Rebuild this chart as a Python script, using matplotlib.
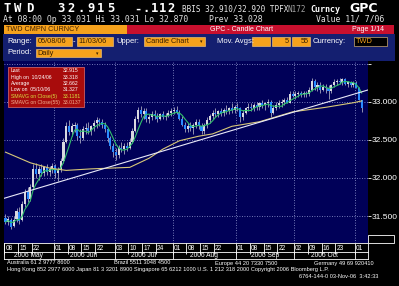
import numpy as np
import pandas as pd
import matplotlib
matplotlib.use('Agg')
import matplotlib.pyplot as plt
from matplotlib.patches import Rectangle
import matplotlib.transforms as mtrans

# ---------------- data ----------------
dates = pd.bdate_range('2006-05-08', '2006-11-03')

opens = [31.48, 31.42, 31.45, 31.37, 31.46, 31.55, 31.45, 31.66, 31.82, 31.72,
         31.88, 32.12, 32.05, 32.12, 32.06, 32.14, 32.08, 32.12, 32.16, 32.06,
         32.10, 32.22, 32.48, 32.68, 32.60, 32.68, 32.70, 32.55, 32.52, 32.64,
         32.66, 32.62, 32.68, 32.72, 32.76, 32.74, 32.70, 32.64, 32.52, 32.42,
         32.34, 32.30, 32.40, 32.38, 32.42, 32.40, 32.48, 32.62, 32.78, 32.90,
         32.84, 32.88, 32.78, 32.80, 32.84, 32.82, 32.78, 32.84, 32.80, 32.82,
         32.86, 32.88, 32.90, 32.86, 32.78, 32.70, 32.64, 32.68, 32.66, 32.70,
         32.74, 32.68, 32.62, 32.70, 32.76, 32.82, 32.86, 32.84, 32.88, 32.86,
         32.90, 32.88, 32.92, 32.90, 32.94, 32.92, 32.80, 32.86, 32.92, 32.94,
         32.92, 32.96, 32.94, 32.98, 32.96, 32.98, 33.00, 32.86, 32.92, 32.96,
         32.98, 33.00, 33.02, 32.98, 33.10, 33.08, 33.10, 33.12, 33.10, 33.12,
         33.10, 33.16, 33.28, 33.20, 33.22, 33.16, 33.20, 33.18, 33.14, 33.22,
         33.26, 33.28, 33.26, 33.30, 33.24, 33.26, 33.22, 33.25, 33.18, 33.031]
highs = [31.52, 31.50, 31.47, 31.50, 31.60, 31.62, 31.70, 31.86, 31.88, 31.92,
         32.18, 32.20, 32.16, 32.18, 32.16, 32.18, 32.16, 32.20, 32.19, 32.14,
         32.26, 32.52, 32.74, 32.76, 32.72, 32.74, 32.72, 32.64, 32.68, 32.72,
         32.74, 32.70, 32.76, 32.80, 32.79, 32.78, 32.74, 32.66, 32.55, 32.46,
         32.40, 32.44, 32.48, 32.46, 32.48, 32.52, 32.66, 32.82, 32.94, 32.95,
         32.92, 32.92, 32.84, 32.88, 32.90, 32.86, 32.86, 32.88, 32.86, 32.90,
         32.92, 32.94, 32.95, 32.90, 32.82, 32.74, 32.72, 32.74, 32.72, 32.78,
         32.78, 32.72, 32.72, 32.80, 32.84, 32.90, 32.92, 32.90, 32.92, 32.92,
         32.96, 32.94, 32.98, 32.96, 32.98, 32.94, 32.90, 32.94, 32.98, 32.98,
         32.98, 33.00, 33.00, 33.02, 33.00, 33.04, 33.02, 32.96, 33.00, 33.02,
         33.04, 33.05, 33.06, 33.14, 33.14, 33.14, 33.14, 33.15, 33.14, 33.14,
         33.20, 33.31, 33.30, 33.26, 33.26, 33.24, 33.24, 33.22, 33.24, 33.30,
         33.30, 33.31, 33.318, 33.31, 33.28, 33.28, 33.28, 33.28, 33.20, 33.031]
lows = [31.40, 31.38, 31.327, 31.35, 31.42, 31.40, 31.43, 31.62, 31.68, 31.70,
        31.86, 32.00, 31.98, 32.02, 32.02, 32.04, 32.02, 32.06, 32.00, 31.96,
        32.08, 32.20, 32.46, 32.56, 32.55, 32.60, 32.50, 32.46, 32.50, 32.58,
        32.58, 32.56, 32.62, 32.66, 32.68, 32.66, 32.60, 32.48, 32.38, 32.28,
        32.24, 32.26, 32.34, 32.32, 32.36, 32.38, 32.46, 32.60, 32.74, 32.80,
        32.78, 32.74, 32.72, 32.76, 32.78, 32.74, 32.76, 32.78, 32.76, 32.80,
        32.82, 32.84, 32.84, 32.76, 32.68, 32.60, 32.60, 32.62, 32.58, 32.66,
        32.64, 32.58, 32.58, 32.66, 32.72, 32.78, 32.80, 32.80, 32.82, 32.82,
        32.84, 32.84, 32.86, 32.86, 32.88, 32.74, 32.76, 32.84, 32.88, 32.88,
        32.88, 32.90, 32.90, 32.92, 32.90, 32.94, 32.80, 32.84, 32.90, 32.92,
        32.94, 32.96, 32.98, 32.98, 33.06, 33.04, 33.06, 33.06, 33.07, 33.06,
        33.08, 33.14, 33.16, 33.14, 33.12, 33.14, 33.12, 33.04, 33.12, 33.20,
        33.22, 33.24, 33.22, 33.22, 33.20, 33.20, 33.20, 33.18, 33.02, 32.87]
closes = [31.42, 31.46, 31.36, 31.45, 31.56, 31.44, 31.66, 31.82, 31.72, 31.88,
          32.12, 32.05, 32.12, 32.06, 32.14, 32.08, 32.12, 32.16, 32.06, 32.10,
          32.22, 32.48, 32.68, 32.60, 32.68, 32.70, 32.55, 32.52, 32.64, 32.66,
          32.62, 32.68, 32.72, 32.76, 32.74, 32.70, 32.64, 32.52, 32.42, 32.34,
          32.30, 32.40, 32.38, 32.42, 32.40, 32.48, 32.62, 32.78, 32.90, 32.84,
          32.88, 32.78, 32.80, 32.84, 32.82, 32.78, 32.84, 32.80, 32.82, 32.86,
          32.88, 32.90, 32.86, 32.78, 32.70, 32.64, 32.68, 32.66, 32.70, 32.74,
          32.68, 32.62, 32.70, 32.76, 32.82, 32.86, 32.84, 32.88, 32.86, 32.90,
          32.88, 32.92, 32.90, 32.94, 32.92, 32.80, 32.86, 32.92, 32.94, 32.92,
          32.96, 32.94, 32.98, 32.96, 32.98, 33.00, 32.86, 32.92, 32.96, 32.98,
          33.00, 33.02, 32.98, 33.10, 33.08, 33.10, 33.12, 33.10, 33.12, 33.10,
          33.16, 33.28, 33.20, 33.22, 33.16, 33.20, 33.18, 33.14, 33.22, 33.26,
          33.28, 33.26, 33.30, 33.24, 33.26, 33.22, 33.25, 33.18, 33.028, 32.915]

# 55-day moving average (trading-day index, value)
sma55_idx = [0, 9, 16, 22, 31, 38, 45, 52, 57, 63, 70, 75, 82, 92, 104, 116, 126, 129]
sma55_val = [32.34, 32.20, 32.13, 32.10, 32.12, 32.13, 32.14, 32.26, 32.38, 32.49,
             32.55, 32.58, 32.68, 32.74, 32.87, 32.93, 32.99, 33.0137]

# trend line end points (trading-day index, value)
trend_idx = [-0.5, 131.3]
trend_val = [31.733, 33.158]

tick_dates = ['2006-05-08', '2006-05-15', '2006-05-22', '2006-06-01', '2006-06-08',
              '2006-06-15', '2006-06-22', '2006-07-03', '2006-07-10', '2006-07-17',
              '2006-07-24', '2006-08-01', '2006-08-08', '2006-08-15', '2006-08-22',
              '2006-09-01', '2006-09-08', '2006-09-15', '2006-09-22', '2006-10-02',
              '2006-10-09', '2006-10-16', '2006-10-23', '2006-11-01']
month_names = ['2006 May', '2006 Jun', '2006 Jul', '2006 Aug', '2006 Sep', '2006 Oct']
y_ticks = [31.5, 32.0, 32.5, 33.0, 33.5]
y_labels = ['31.500', '32.000', '32.500', '33.000', '']

stats_labels = ['Last', 'High on  10/24/06', 'Average', 'Low on  05/10/06',
                'SMAVG on Close(5)', 'SMAVG on Close(55)']
stats_values = ['32.915', '33.318', '32.662', '31.327', '33.1181', '33.0137']

# ---------------- figure ----------------
W, H = 399, 286
ORANGE = '#f6a21c'
NAVY_PANEL = '#141f70'
PLOT_BG = '#000058'
SANS = 'Liberation Sans'

fig = plt.figure(figsize=(W / 100, H / 100), dpi=100, facecolor='black')
bg = fig.add_axes([0, 0, 1, 1])
bg.set_xlim(0, W)
bg.set_ylim(H, 0)
bg.axis('off')

mono = 'DejaVu Sans Mono'

def spaced(ax_, x, y, s, pitch, **kw):
    for k, ch in enumerate(s):
        ax_.text(x + k * pitch, y, ch, ha='left', va='center', **kw)

# header line 1 (wide tracking like the terminal font)
big = dict(family=mono, weight='bold', fontsize=8.8, color='white')
spaced(bg, 3, 9, 'TWD', 11.5, **big)
spaced(bg, 57, 9, '32.915', 10.0, **big)
spaced(bg, 134, 9, '-.112', 8.4, **big)
bg.text(182, 9.5, 'BBIS 32.910/32.920 TPFX', family=mono, fontsize=5.5, color='#e8e8e8', va='center')
bg.text(287.5, 9.5, 'N172', family=mono, fontsize=5.5, color='#a0a0a0', va='center')
bg.text(310, 9.5, 'Curncy', family=mono, weight='bold', fontsize=6.0, color='white', va='center')
bg.text(349, 8.5, 'GPC', family='DejaVu Sans', weight='bold', fontsize=9.0, color='white', va='center')
# header line 2
bg.text(3, 19.5, 'At 08:00 Op 33.031 Hi 33.031 Lo 32.870', family=mono, fontsize=5.9,
        color='#e0e0e0', va='center')
bg.text(209, 19.5, 'Prev 33.028', family=mono, fontsize=5.9, color='#e0e0e0', va='center')
bg.text(316, 19.5, 'Value 11/ 7/06', family=mono, fontsize=5.9, color='#e0e0e0', va='center')

# title bars
bg.add_patch(Rectangle((4, 25), 123, 8.5, color=ORANGE, lw=0))
bg.text(6, 29.5, 'TWD CMPN CURNCY', family=SANS, fontsize=5.2, color='#402000', va='center')
bg.add_patch(Rectangle((127, 25), 267, 8.5, color='#c8102e', lw=0))
bg.text(210, 29.5, 'GPC - Candle Chart', family=SANS, fontsize=5.0, color='white', va='center')
bg.text(352, 29.5, 'Page 1/14', family=SANS, fontsize=5.0, color='white', va='center')

# control panel
bg.add_patch(Rectangle((3, 33.5), 392, 27.5, color=NAVY_PANEL, lw=0))
def box(x, y, w, h, txt, fc=ORANGE, tc='#3a2000', ha='left', arrow=False):
    bg.add_patch(Rectangle((x, y), w, h, facecolor=fc, edgecolor='#ffd080', lw=0.4))
    if ha == 'left':
        bg.text(x + 1.5, y + h / 2 + 0.3, txt, family=SANS, fontsize=5.3, color=tc, va='center')
    else:
        bg.text(x + w - 1.5, y + h / 2 + 0.3, txt, family=SANS, fontsize=5.3, color=tc,
                va='center', ha='right')
    if arrow:
        bg.text(x + w - 3.5, y + h / 2 + 0.3, '\u25be', fontsize=3.5, color=tc, va='center', ha='center')

lab = dict(family=SANS, fontsize=5.5, color='white', va='center')
bg.text(7, 41.5, 'Range:', **lab)
box(36, 37, 36, 8.5, '05/08/06')
bg.text(73, 41.5, '-', **lab)
box(77, 37, 36, 8.5, '11/03/06')
bg.text(116, 41.5, 'Upper:', **lab)
box(144, 37, 61, 8.5, 'Candle Chart', arrow=True)
bg.text(217, 41.5, 'Mov. Avgs:', **lab)
box(252, 37, 18, 8.5, '', ha='right')
box(272, 37, 18, 8.5, '5', ha='right')
box(292, 37, 18, 8.5, '55', ha='right')
bg.text(313, 41.5, 'Currency:', **lab)
box(354, 37, 33, 8.5, 'TWD', fc='black', tc=ORANGE)
bg.text(7, 52.5, 'Period:', **lab)
box(36, 48.5, 65, 8.5, 'Daily', arrow=True)

# ---------------- price chart ----------------
ax = fig.add_axes([4 / W, 1 - 243 / H, 364 / W, 182 / H])
ax.set_facecolor(PLOT_BG)
n = len(dates)
xi = np.arange(n)
o = np.array(opens); h = np.array(highs); l = np.array(lows); c = np.array(closes)
up = c >= o
body_col = np.where(up, '#d8d8e0', '#2a8cff')
ax.vlines(xi, l, h, color='#a8a8c0', lw=0.6, zorder=3)
body_h = np.maximum(np.abs(c - o), 0.008)
ax.bar(xi, body_h, bottom=np.minimum(o, c), width=0.75, color=body_col, lw=0, zorder=4)

sma5 = pd.Series(closes).rolling(5, min_periods=1).mean()
ax.plot(xi, sma5, color='#2fbf6a', lw=0.8, zorder=5)
ax.plot(sma55_idx, sma55_val, color='#d8c878', lw=0.8, zorder=5)
ax.plot(trend_idx, trend_val, color='#e8e8f8', lw=0.8, zorder=5)

ax.set_xlim(-0.54, 131.3)
ax.set_ylim(31.145, 33.539)

# grid
ax.set_yticks(y_ticks)
ax.set_yticklabels(y_labels)
ax.grid(axis='y', color='#9aa0d8', lw=0.6, ls=(0, (1, 2)))
date_index = {d.strftime('%Y-%m-%d'): i for i, d in enumerate(dates)}
month_first = []
for m in range(5, 12):
    sel = [i for i, d in enumerate(dates) if d.month == m]
    month_first.append((m, sel[0], sel[-1]))
for m, first, last in month_first[1:]:
    ax.axvline(first - 0.5, color='#9aa0d8', lw=0.6, ls=(0, (1, 2)), zorder=1)

ax.yaxis.tick_right()
ax.tick_params(axis='y', colors='white', length=2.5, width=0.6, pad=0.3, labelsize=6.0)
for t in ax.get_yticklabels():
    t.set_family(SANS)

tick_pos = [date_index[d] - 0.5 for d in tick_dates]
tick_lab = [d[-2:] for d in tick_dates]
ax.set_xticks(tick_pos)
ax.set_xticklabels(tick_lab)
ax.tick_params(axis='x', colors='white', length=8, width=0.6, direction='out',
               pad=-6.3, labelsize=4.8)
off = mtrans.ScaledTranslation(1.2 / 100, 0, fig.dpi_scale_trans)
for t in ax.get_xticklabels():
    t.set_family(SANS)
    t.set_horizontalalignment('left')
    t.set_transform(t.get_transform() + off)

for sp in ax.spines.values():
    sp.set_visible(False)
ax.spines['bottom'].set_visible(True)
ax.spines['bottom'].set_color('white')
ax.spines['bottom'].set_linewidth(0.6)

# date axis frame rows
blend = mtrans.blended_transform_factory(ax.transData, ax.transAxes)
row1 = (243 - 251.5) / 182
row2 = (243 - 259) / 182
for yy in (row1, row2):
    ax.plot([0, 1], [yy, yy], transform=ax.transAxes, color='white', lw=0.6, clip_on=False)
ax.plot([0, 0], [0, row2], transform=ax.transAxes, color='white', lw=0.6, clip_on=False)
ax.plot([1, 1], [0, row2], transform=ax.transAxes, color='white', lw=0.6, clip_on=False)
seps = [first - 0.5 for m, first, last in month_first[1:]]
ax.vlines(seps, row2, row1, transform=blend, color='white', lw=0.6, clip_on=False)
for (m, first, last), name in zip(month_first[:6], month_names):
    ax.text((first + last) / 2, (row1 + row2) / 2, name, transform=blend, color='white',
            family=SANS, fontsize=4.8, ha='center', va='center', clip_on=False)

# ---------------- overlay (stats box etc.) ----------------
top = fig.add_axes([0, 0, 1, 1])
top.set_xlim(0, W)
top.set_ylim(H, 0)
top.axis('off')
top.patch.set_alpha(0)

top.add_patch(Rectangle((8, 67), 76, 40, facecolor='#a80c0c', edgecolor='#e07070', lw=0.5))
stat_cols = ['white', 'white', 'white', 'white', '#d8e040', '#f0b090']
for k, (lb, vl, cc) in enumerate(zip(stats_labels, stats_values, stat_cols)):
    yy = 71 + k * 6.3
    top.text(11, yy, lb, family=SANS, fontsize=3.7, color=cc, va='center')
    top.text(63, yy, vl, family=SANS, fontsize=3.7, color=cc, va='center')

# right bottom small box
top.add_patch(Rectangle((368, 235), 26, 8, facecolor='black', edgecolor='white', lw=0.6))

# footer
ff = dict(family=SANS, fontsize=4.1, color='white', va='center')
top.text(7, 263, 'Australia 61 2 9777 8600', **ff)
top.text(114, 263, 'Brazil 5511 3048 4500', **ff)
top.text(215, 263, 'Europe 44 20 7330 7500', **ff)
top.text(314, 263, 'Germany 49 69 920410', **ff)
top.text(7, 270, 'Hong Kong 852 2977 6000 Japan 81 3 3201 8900 Singapore 65 6212 1000 U.S. 1 212 318 2000 Copyright 2006 Bloomberg L.P.', **ff)
top.text(378, 276.5, '6764-144-0 03-Nov-06  3:42:33', ha='right', **ff)

fig.savefig('out.png', dpi=100, facecolor='black')
